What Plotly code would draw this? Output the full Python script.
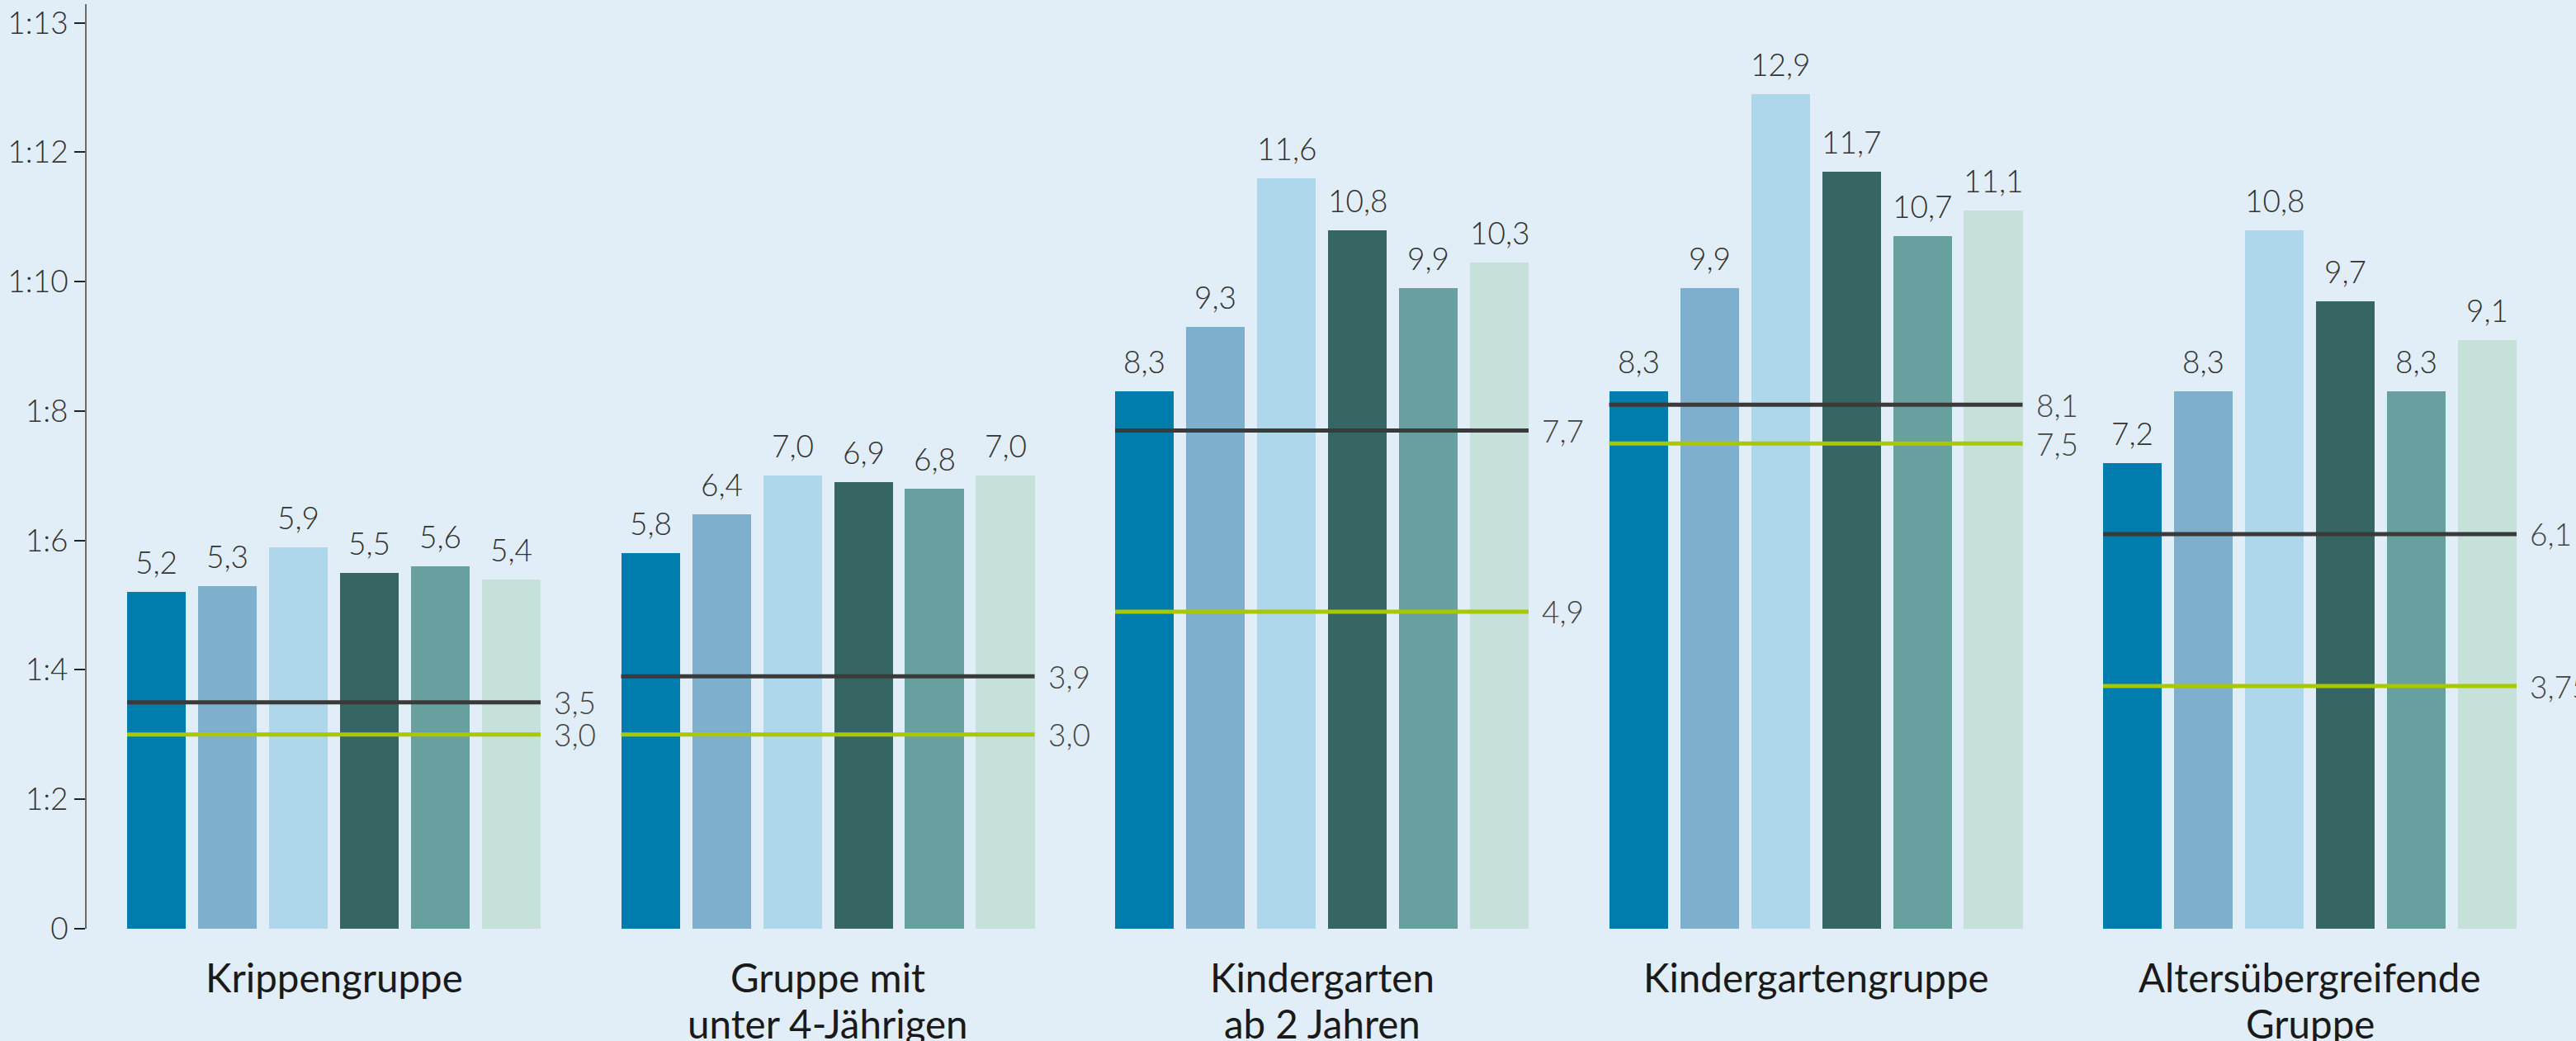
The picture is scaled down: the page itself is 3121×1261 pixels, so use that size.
import plotly.graph_objects as go

# ---- data ----
categories = ["Krippengruppe", "Gruppe mit<br>unter 4-Jährigen", "Kindergarten<br>ab 2 Jahren",
              "Kindergartengruppe", "Altersübergreifende<br>Gruppe"]
series_names = ["Reihe 1", "Reihe 2", "Reihe 3", "Reihe 4", "Reihe 5", "Reihe 6"]
s1 = [5.2, 5.8, 8.3, 8.3, 7.2]
s2 = [5.3, 6.4, 9.3, 9.9, 8.3]
s3 = [5.9, 7.0, 11.6, 12.9, 10.8]
s4 = [5.5, 6.9, 10.8, 11.7, 9.7]
s5 = [5.6, 6.8, 9.9, 10.7, 8.3]
s6 = [5.4, 7.0, 10.3, 11.1, 9.1]
ref_dark = [3.5, 3.9, 7.7, 8.1, 6.1]
ref_green = [3.0, 3.0, 4.9, 7.5, 3.75]
y_tickvals = [0, 2, 4, 6, 8, 10, 12, 14]
y_ticktext = ["0", "1:2", "1:4", "1:6", "1:8", "1:10", "1:12", "1:13"]

# ---- style ----
series = [s1, s2, s3, s4, s5, s6]
colors = ["#007cad", "#7eafcc", "#afd7ec", "#366664", "#68a09f", "#c5e1da"]
BG = "#e1eef7"
GROUP_STEP = 6.96
BAR_W = 0.826
FONT = "Lato"
CAT_FIRST_SHIFT = -58
CAT_LINE_STEP = 56


def fmt(v):
    s = f"{v:.2f}".rstrip("0")
    if s.endswith("."):
        s += "0"
    return s.replace(".", ",")


fig = go.Figure()
ngroups = len(categories)
for j, (vals, name) in enumerate(zip(series, series_names)):
    xs = [g * GROUP_STEP + j for g in range(ngroups)]
    fig.add_trace(go.Bar(x=xs, y=vals, width=BAR_W, name=name,
                         marker=dict(color=colors[j], line=dict(width=0)),
                         showlegend=False, hoverinfo="y"))

annotations = []
for j, vals in enumerate(series):
    for g, v in enumerate(vals):
        annotations.append(dict(x=g * GROUP_STEP + j, y=v, text=fmt(v), showarrow=False,
                                xanchor="center", yanchor="bottom", yshift=12,
                                font=dict(family=FONT, size=37, color="#333333", weight=300)))

for refvals, col in [(ref_dark, "#3a3a3a"), (ref_green, "#a8c800")]:
    for g, v in enumerate(refvals):
        x0 = g * GROUP_STEP - BAR_W / 2
        x1 = g * GROUP_STEP + 5 + BAR_W / 2
        fig.add_trace(go.Scatter(x=[x0, x1], y=[v, v], mode="lines",
                                 line=dict(color=col, width=5), showlegend=False,
                                 hoverinfo="y", cliponaxis=False))
        annotations.append(dict(x=x1, y=v, text=fmt(v), showarrow=False,
                                xanchor="left", yanchor="middle", xshift=14,
                                font=dict(family=FONT, size=37, color="#444444", weight=300)))

# category labels (one annotation per text line for tighter line spacing)
for g, cat in enumerate(categories):
    for k, line in enumerate(cat.split("<br>")):
        annotations.append(dict(x=g * GROUP_STEP + 2.5, y=0, text=line, showarrow=False,
                                xanchor="center", yanchor="middle",
                                yshift=CAT_FIRST_SHIFT - k * CAT_LINE_STEP,
                                font=dict(family=FONT, size=47.5, color="#1a1a1a")))

fig.update_layout(
    width=3121, height=1261, autosize=False,
    margin=dict(l=105, r=0, t=5, b=136, pad=0),
    paper_bgcolor=BG, plot_bgcolor=BG,
    bargap=0, barmode="overlay",
    annotations=annotations,
    font=dict(family=FONT),
)
fig.update_xaxes(range=[-0.983, 34.09], showticklabels=False,
                 showgrid=False, zeroline=False, showline=False,
                 ticks="", automargin=False)
fig.update_yaxes(range=[0, 14.29], tickvals=y_tickvals, ticktext=y_ticktext,
                 showgrid=False, zeroline=False, showline=True, linecolor="#6d6d6d", linewidth=2,
                 ticks="outside", ticklen=13, tickwidth=2, tickcolor="#222222", automargin=False,
                 tickfont=dict(family=FONT, size=37, color="#333333", weight=300))

fig.write_html("out.html", config={"displayModeBar": False},
               post_script="document.body.style.margin='0';document.body.style.background='%s';" % BG)
